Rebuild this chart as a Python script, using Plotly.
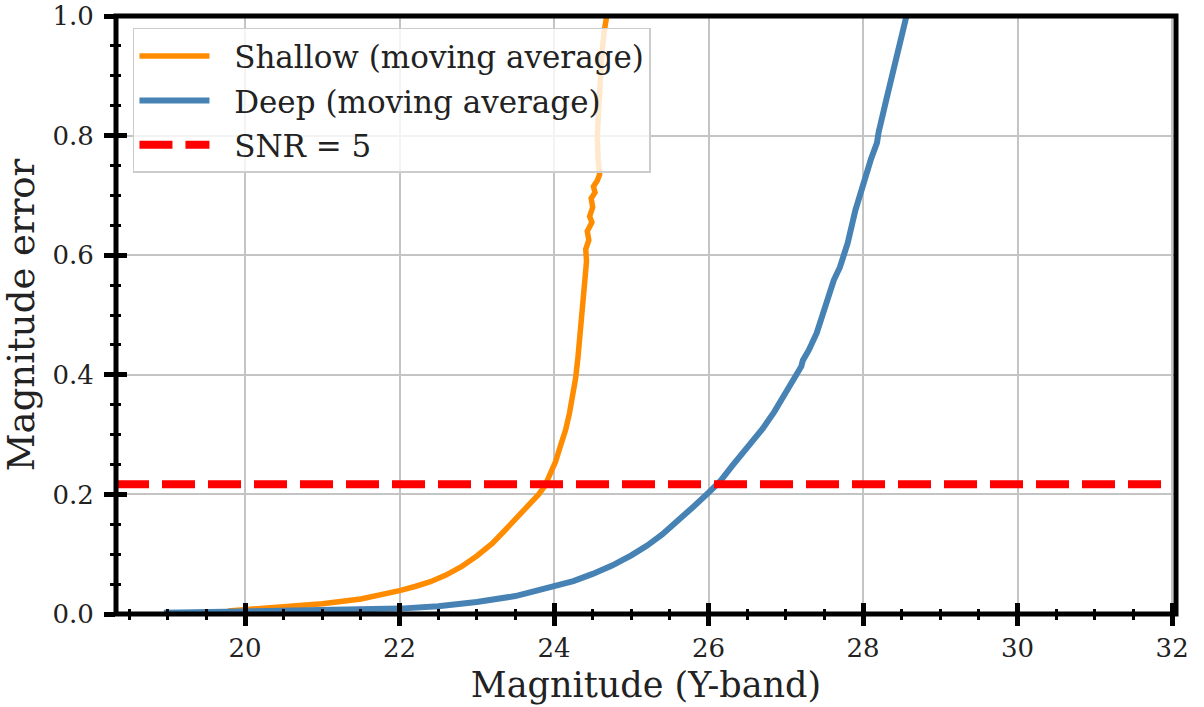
import plotly.graph_objects as go

# Moving-average magnitude error versus Y-band magnitude
shallow_mag = [19.78, 20.0, 20.5, 21.0, 21.5, 21.75, 22.0, 22.2, 22.4, 22.6, 22.8, 23.0,
               23.2, 23.35, 23.5, 23.6, 23.7, 23.8, 23.88, 23.95, 24.02, 24.09, 24.15,
               24.20, 24.24, 24.28, 24.31, 24.33, 24.35, 24.37, 24.40, 24.42, 24.41,
               24.45, 24.43, 24.49, 24.46, 24.50, 24.48, 24.53, 24.51, 24.56, 24.59,
               24.57, 24.56, 24.58, 24.60, 24.62, 24.65, 24.72]
shallow_err = [0.005, 0.007, 0.011, 0.017, 0.025, 0.031, 0.039, 0.046, 0.054, 0.065, 0.079, 0.097,
               0.118, 0.138, 0.158, 0.172, 0.186, 0.200, 0.214, 0.232, 0.255, 0.284, 0.308,
               0.336, 0.365, 0.395, 0.430, 0.455, 0.490, 0.525, 0.560, 0.590, 0.610,
               0.625, 0.640, 0.655, 0.665, 0.680, 0.695, 0.705, 0.715, 0.725, 0.735,
               0.760, 0.800, 0.850, 0.900, 0.940, 0.975, 1.030]

deep_mag = [18.95, 19.5, 20.0, 20.5, 21.0, 21.5, 22.0, 22.5, 23.0, 23.5, 24.0, 24.25,
            24.5, 24.75, 25.0, 25.2, 25.4, 25.6, 25.8, 26.0, 26.15, 26.3, 26.45, 26.6,
            26.7, 26.85, 26.95, 27.1, 27.2, 27.22, 27.3, 27.4, 27.5, 27.6, 27.62, 27.7,
            27.8, 27.9, 28.0, 28.1, 28.18, 28.2, 28.3, 28.4, 28.5, 28.58]
deep_err = [0.002, 0.003, 0.004, 0.005, 0.006, 0.007, 0.009, 0.013, 0.020, 0.030, 0.045, 0.055,
            0.067, 0.081, 0.098, 0.114, 0.133, 0.155, 0.179, 0.203, 0.222, 0.247, 0.270, 0.292,
            0.310, 0.338, 0.360, 0.393, 0.414, 0.424, 0.442, 0.470, 0.510, 0.545, 0.558, 0.580,
            0.620, 0.675, 0.720, 0.760, 0.788, 0.805, 0.860, 0.915, 0.965, 1.010]

snr_error = 0.217          # magnitude error at SNR = 5
x_range = [18.33, 32.05]
y_range = [0.0, 1.0]

SERIF = "DejaVu Serif"
PAD = "\u00a0\u00a0"       # gap between legend sample and label

fig = go.Figure()
fig.add_trace(go.Scatter(x=shallow_mag, y=shallow_err, mode="lines",
                         name=PAD + "Shallow (moving average)", legendgroup="a",
                         line=dict(color="#ff8c00", width=5.5)))
fig.add_trace(go.Scatter(x=deep_mag, y=deep_err, mode="lines",
                         name=PAD + "Deep (moving average)", legendgroup="b",
                         line=dict(color="#4682b4", width=6)))
fig.add_trace(go.Scatter(x=x_range, y=[snr_error, snr_error], mode="lines",
                         name=PAD + "SNR = 5", legendgroup="c",
                         xaxis="x2", yaxis="y2",
                         line=dict(color="#ff0000", width=8, dash="33px,13px")))

tick_common = dict(tickcolor="black", tickwidth=5, ticklen=11, zeroline=False,
                   showline=False, fixedrange=True, automargin=False)
minor_out = dict(ticks="outside", ticklen=5, tickwidth=3, tickcolor="black", showgrid=False)
minor_in = dict(ticks="inside", ticklen=5, tickwidth=3, tickcolor="black", showgrid=False)
tickfont = dict(family=SERIF, size=26, color="#222222")
titlefont = dict(family=SERIF, size=35, color="#222222")

fig.update_layout(
    width=1204, height=707,
    margin=dict(l=116, r=28, t=16, b=93),
    paper_bgcolor="white", plot_bgcolor="white",
    xaxis=dict(range=x_range, dtick=2, tick0=0, ticks="outside",
               showgrid=True, gridcolor="#c4c4c4", gridwidth=1.5,
               minor=dict(dtick=0.5, **minor_out), tickfont=tickfont,
               title=dict(text="Magnitude (Y-band)", font=titlefont, standoff=10),
               **tick_common),
    yaxis=dict(range=y_range, dtick=0.2, tick0=0, ticks="outside", tickformat=".1f",
               showgrid=True, gridcolor="#c4c4c4", gridwidth=1.5, ticklabelstandoff=5,
               minor=dict(dtick=0.05, **minor_out), tickfont=tickfont,
               title=dict(text="Magnitude error",
                          font=dict(family=SERIF, size=37, color="#222222"), standoff=8),
               **tick_common),
    xaxis2=dict(range=x_range, dtick=2, tick0=0, ticks="inside", overlaying="x",
                anchor="y2", side="bottom", showticklabels=False, showgrid=False,
                minor=dict(dtick=0.5, **minor_in), **tick_common),
    yaxis2=dict(range=y_range, dtick=0.2, tick0=0, ticks="inside", overlaying="y",
                anchor="x2", side="left", showticklabels=False, showgrid=False,
                minor=dict(dtick=0.05, **minor_in), **tick_common),
    legend=dict(x=0.016, y=0.980, xanchor="left", yanchor="top",
                bgcolor="rgba(255,255,255,0.8)", bordercolor="#cccccc", borderwidth=1.5,
                font=dict(family=SERIF, size=31, color="#222222"),
                itemwidth=70, tracegroupgap=1),
    shapes=[dict(type="rect", xref="paper", yref="paper", x0=0, x1=1, y0=0, y1=1,
                 line=dict(color="black", width=5), layer="above")],
)

fig.write_html("out.html")
